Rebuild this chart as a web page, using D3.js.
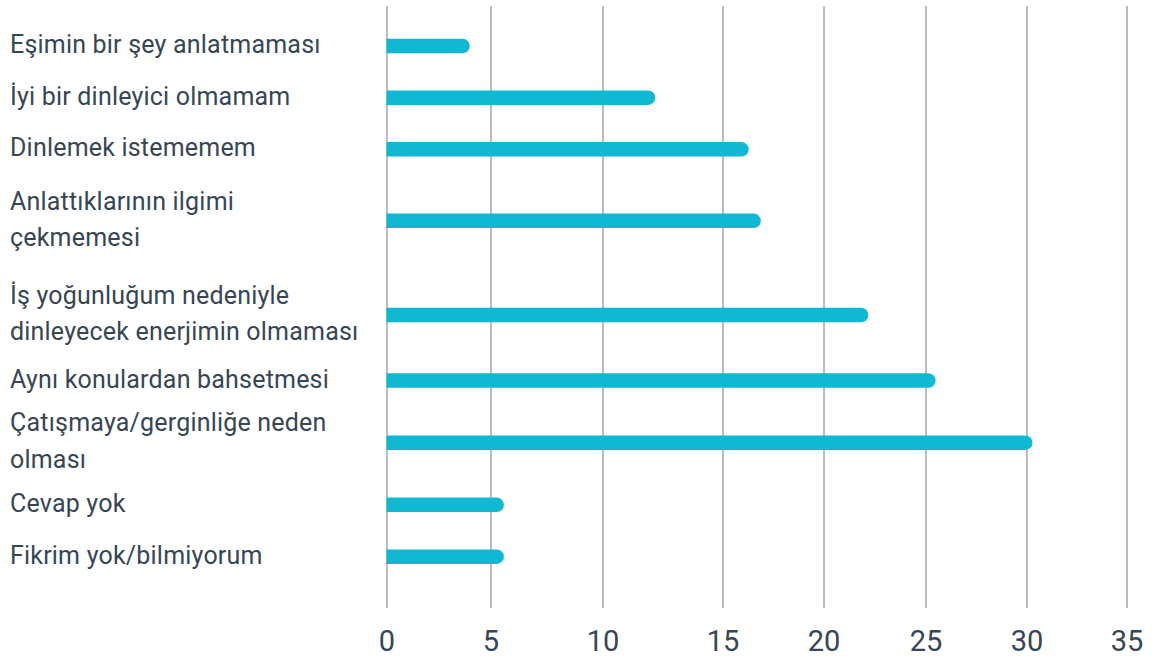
<!DOCTYPE html>
<html>
<head>
<meta charset="utf-8">
<script src="https://cdn.jsdelivr.net/npm/d3@7"></script>
<style>
  body { margin: 0; background: #fff; }
  svg { display: block; font-family: Roboto, "Noto Sans", sans-serif; }
</style>
</head>
<body>
<div id="container"></div>
<script>
// DATA

const categories = [
  ["Eşimin bir şey anlatmaması"],
  ["İyi bir dinleyici olmamam"],
  ["Dinlemek istememem"],
  ["Anlattıklarının ilgimi", "çekmemesi"],
  ["İş yoğunluğum nedeniyle", "dinleyecek enerjimin olmaması"],
  ["Aynı konulardan bahsetmesi"],
  ["Çatışmaya/gerginliğe neden", "olması"],
  ["Cevap yok"],
  ["Fikrim yok/bilmiyorum"]
]
const values = [4, 12.2, 16.3, 16.9, 22.2, 25.5, 30.3, 5.6, 5.6]
const tickValues = [0, 5, 10, 15, 20, 25, 30, 35]

// VARIABLES

const width = 1153,
      height = 657,
      gridTop = 6,
      gridBottom = 608,
      barHeight = 14.6,
      lineHeight = 36.5,
      barColor = "#10b9d1",
      textColor = "#364655",
      gridColor = "#6f7c86"

// the reference grid is not evenly spaced, so both scales are piecewise
const gridX = [386.5, 490.5, 602.5, 722.5, 823.5, 925.5, 1026.5, 1126.5]
const rowY = [46, 97.7, 149.3, 220.8, 315, 380.5, 442.7, 504.8, 556.7]

// SCALES

const xScale = d3.scaleLinear()
    .domain(tickValues)
    .range(gridX)

const yScale = d3.scaleLinear()
    .domain(d3.range(categories.length))
    .range(rowY)

// ELEMENTS

const mySVG = d3.select("#container")
    .append("svg")
    .attr("width", width)
    .attr("height", height)

const xAxis = d3.axisBottom(xScale)
    .tickValues(tickValues)
    .tickFormat(d3.format("d"))
    .tickSizeInner(-(gridBottom - gridTop))
    .tickSizeOuter(0)
    .tickPadding(22)

const gx = mySVG.append("g")
    .attr("transform", `translate(0,${gridBottom})`)
    .call(xAxis)

gx.select(".domain").remove()
gx.selectAll(".tick line")
    .attr("stroke", gridColor)
    .attr("stroke-width", 1)
gx.selectAll(".tick text")
    .attr("fill", textColor)
    .attr("font-size", 29)
    .attr("font-family", "Roboto, sans-serif")

// SELECT-JOIN-DRAW

const barPath = (v, i) => {
  const x0 = xScale(0),
        x1 = xScale(v),
        r = barHeight / 2,
        top = yScale(i) - r,
        bottom = yScale(i) + r
  return `M${x0},${top}H${x1 - r}A${r},${r} 0 0 1 ${x1 - r},${bottom}H${x0}Z`
}

mySVG.selectAll("path.bar")
    .data(values)
    .join("path")
    .attr("class", "bar")
    .attr("d", (d, i) => barPath(d, i))
    .attr("fill", barColor)

const labels = mySVG.selectAll("text.label")
    .data(categories)
    .join("text")
    .attr("class", "label")
    .attr("fill", textColor)
    .attr("font-size", 25)
    .attr("letter-spacing", 0.2)

labels.selectAll("tspan")
    .data((d, i) => d.map((line, j) => ({line, j, n: d.length, i})))
    .join("tspan")
    .attr("x", 10)
    .attr("y", d => yScale(d.i) + 7 + (d.j - (d.n - 1) / 2) * lineHeight)
    .text(d => d.line)
</script>
</body>
</html>
